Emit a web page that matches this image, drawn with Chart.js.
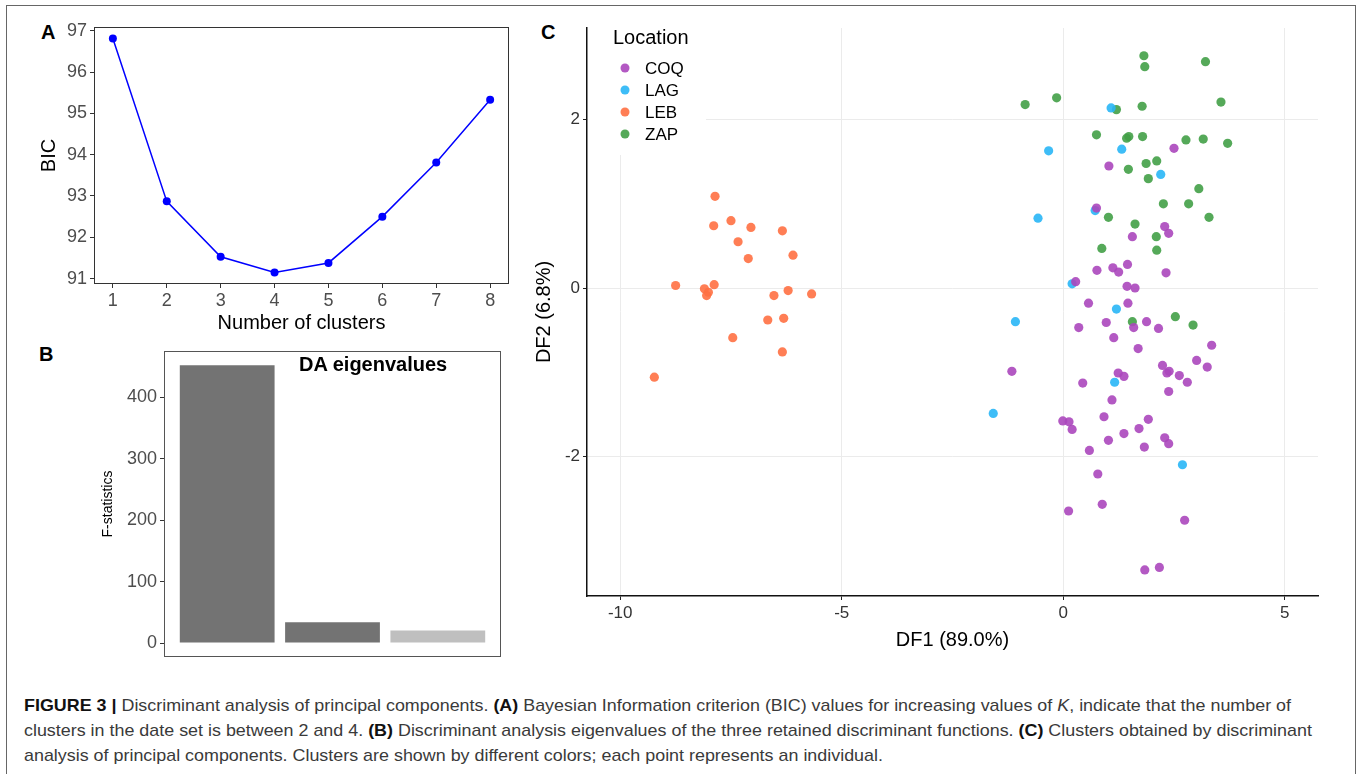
<!DOCTYPE html>
<html>
<head>
<meta charset="utf-8">
<script src="https://cdn.jsdelivr.net/npm/chart.js@4.4.0/dist/chart.umd.min.js"></script>
<style>
  body { margin: 0; background: #fff; width: 1358px; height: 774px; overflow: hidden; position: relative;
         font-family: "Liberation Sans", Arial, sans-serif; }
  .frame { position: absolute; left: 6px; top: 5px; width: 1348px; height: 840px; border: 1.5px solid #666; }
  canvas { position: absolute; }
  .letter { position: absolute; font-weight: bold; font-size: 20px; color: #000; line-height: 20px; }
  .subtitle { position: absolute; font-weight: bold; font-size: 20px; color: #000; }
  .caption { position: absolute; left: 24px; top: 693px; font-size: 17px; line-height: 25px; color: #3a3a3a;
             white-space: nowrap; transform-origin: 0 0; }
  .caption b { color: #111; }
</style>
</head>
<body>
<div class="frame"></div>

<div class="letter" style="left:41px; top:22px;">A</div>
<div class="letter" style="left:39px; top:344px;">B</div>
<div class="letter" style="left:541px; top:22px;">C</div>

<canvas id="bicChart" width="490" height="325" style="left:30px; top:15px;"></canvas>
<canvas id="eigenChart" width="411" height="317" style="left:95px; top:345px;"></canvas>
<div class="subtitle" style="left:299px; top:353px;">DA eigenvalues</div>
<canvas id="dfChart" width="803" height="640" style="left:532px; top:15px;"></canvas>

<div class="caption" id="caption">
  <div id="capLine1"><b>FIGURE 3 |</b> Discriminant analysis of principal components. <b>(A)</b> Bayesian Information criterion (BIC) values for increasing values of <i>K</i>, indicate that the number of</div>
  <div>clusters in the date set is between 2 and 4. <b>(B)</b> Discriminant analysis eigenvalues of the three retained discriminant functions. <b>(C)</b> Clusters obtained by discriminant</div>
  <div>analysis of principal components. Clusters are shown by different colors; each point represents an individual.</div>
</div>

<script>
// Panel A - BIC per number of clusters
const clusterK = [1, 2, 3, 4, 5, 6, 7, 8];
const bicValues = [96.81, 92.87, 91.53, 91.15, 91.38, 92.50, 93.81, 95.33];
const bicTicks = [91, 92, 93, 94, 95, 96, 97];

// Panel B - DA eigenvalues
const eigenIndex = [1, 2, 3];
const eigenValues = [452, 34, 20.5];
const eigenTicks = [0, 100, 200, 300, 400];

// Panel C - DF1 / DF2 scores per location
const coqX = [2.50, 1.03, 0.75, 2.29, 2.38, 1.56, 0.76, 1.12, 1.25, 1.45, 2.32, 0.28, 1.44, 1.62, 0.57, 1.46,
  0.35, 0.97, 1.59, 1.88, 2.15, 1.14, 1.69, 3.35, 3.01, 3.25, 2.24, 2.39, 2.34, 2.62, -1.16, 1.24, 1.37,
  0.44, 2.80, 2.38, 1.10, 0.92, 1.92, -0.01, 0.13, 0.20, 1.71, 1.37, 1.02, 2.29, 2.38, 1.83, 0.59, 0.78,
  0.88, 0.12, 2.74, 1.84, 2.17];
const coqY = [1.66, 1.45, 0.95, 0.73, 0.65, 0.61, 0.21, 0.24, 0.19, 0.28, 0.18, 0.075, 0.02, 0.00, -0.18, -0.18,
  -0.47, -0.41, -0.47, -0.40, -0.48, -0.59, -0.72, -0.68, -0.86, -0.94, -0.92, -0.99, -1.01, -1.04, -0.99, -1.01, -1.05,
  -1.13, -1.12, -1.23, -1.33, -1.53, -1.56, -1.58, -1.59, -1.68, -1.67, -1.73, -1.81, -1.78, -1.85, -1.89, -1.93, -2.21,
  -2.57, -2.65, -2.76, -3.35, -3.32];
const lagX = [1.08, -0.33, 1.32, 2.20, 0.72, -0.57, 0.20, 1.20, -1.08, 1.16, -1.58, 2.69];
const lagY = [2.14, 1.63, 1.65, 1.35, 0.92, 0.83, 0.05, -0.25, -0.40, -1.12, -1.49, -2.10];
const lebX = [-7.86, -7.50, -7.89, -7.05, -6.34, -7.34, -6.10, -7.11, -8.75, -7.88, -8.10, -8.01, -8.05,
  -6.21, -6.53, -5.68, -6.67, -6.31, -7.46, -6.34, -9.23];
const lebY = [1.09, 0.80, 0.74, 0.72, 0.68, 0.55, 0.39, 0.35, 0.03, 0.04, -0.01, -0.05, -0.09,
  -0.03, -0.09, -0.07, -0.38, -0.36, -0.59, -0.76, -1.06];
const zapX = [1.82, 1.84, 3.21, -0.86, -0.15, 1.20, 1.78, 3.56, 0.75, 1.43, 1.48, 1.79, 2.77, 3.16, 3.71, 1.47,
  1.87, 2.11, 1.92, 3.06, 2.26, 2.83, 1.02, 3.29, 1.62, 2.10, 0.87, 2.11, 1.56, 2.53, 2.93];
const zapY = [2.76, 2.63, 2.69, 2.18, 2.26, 2.12, 2.16, 2.21, 1.82, 1.78, 1.80, 1.80, 1.76, 1.77, 1.72, 1.41,
  1.48, 1.51, 1.30, 1.18, 1.00, 1.00, 0.84, 0.84, 0.76, 0.61, 0.47, 0.45, -0.40, -0.34, -0.44];
const dfXTicks = [-10, -5, 0, 5];
const dfYTicks = [-2, 0, 2];

const locations = ["COQ", "LAG", "LEB", "ZAP"];
const locationColors = ["rgba(171, 71, 188, 0.9)", "rgba(41, 182, 246, 0.9)", "rgba(255, 112, 67, 0.9)", "rgba(67, 160, 71, 0.9)"];

Chart.defaults.font.family = '"Liberation Sans", Arial, sans-serif';

// caption is set in a condensed face in the original: squeeze it to the same line width
const capLine1 = document.getElementById("capLine1");
const capWidth = capLine1.getBoundingClientRect().width;
const capRange = document.createRange();
capRange.selectNodeContents(capLine1);
const textWidth = capRange.getBoundingClientRect().width;
document.getElementById("caption").style.transform = "scaleX(" + (1267 / textWidth) + ")";

// draws the ggplot-style panel border round the plot area
function panelBox(color) {
  return {
    id: "panelBox",
    afterDatasetsDraw(chart) {
      const a = chart.chartArea;
      const ctx = chart.ctx;
      ctx.save();
      ctx.strokeStyle = color;
      ctx.lineWidth = 1;
      ctx.strokeRect(a.left + 0.5, a.top + 0.5, a.right - a.left - 1, a.bottom - a.top - 1);
      ctx.restore();
    }
  };
}

function toPoints(xs, ys) {
  return xs.map((x, i) => ({ x: x, y: ys[i] }));
}

// fixed axis sizes so the plot areas sit where the original panels are
function fixY(w) {
  return s => { s.width = w; s.paddingTop = 0; s.paddingBottom = 0; };
}
function fixX(h) {
  return s => { s.height = h; s.paddingLeft = 0; s.paddingRight = 0; };
}

// Panel A
new Chart(document.getElementById("bicChart"), {
  type: "line",
  data: {
    datasets: [{
      data: toPoints(clusterK, bicValues),
      borderColor: "#0000ff",
      backgroundColor: "#0000ff",
      borderWidth: 1.5,
      pointRadius: 4,
      pointBorderWidth: 0,
      tension: 0
    }]
  },
  options: {
    responsive: false,
    animation: false,
    events: [],
    layout: { padding: { top: 12, right: 11, left: 0, bottom: 0 } },
    plugins: { legend: { display: false }, tooltip: { enabled: false } },
    scales: {
      x: {
        type: "linear", min: 0.65, max: 8.35,
        afterBuildTicks: s => { s.ticks = clusterK.map(v => ({ value: v })); },
        afterFit: fixX(56),
        grid: { drawOnChartArea: false, tickLength: 4, tickColor: "#333" },
        border: { display: false },
        ticks: { color: "#4d4d4d", font: { size: 18 }, padding: 2, maxRotation: 0 },
        title: { display: true, text: "Number of clusters", color: "#000", font: { size: 20 }, padding: { top: 0, bottom: 5 } }
      },
      y: {
        min: 90.87, max: 97.09,
        afterBuildTicks: s => { s.ticks = bicTicks.map(v => ({ value: v })); },
        afterFit: fixY(64),
        grid: { drawOnChartArea: false, tickLength: 4, tickColor: "#333" },
        border: { display: false },
        ticks: { color: "#4d4d4d", font: { size: 18 }, padding: 3 },
        title: { display: true, text: "BIC", color: "#000", font: { size: 20 }, padding: { top: 7, bottom: 0 } }
      }
    }
  },
  plugins: [panelBox("#333")]
});

// Panel B
new Chart(document.getElementById("eigenChart"), {
  type: "bar",
  data: {
    datasets: [{
      data: toPoints(eigenIndex, eigenValues),
      backgroundColor: ["#737373", "#737373", "#bfbfbf"],
      borderWidth: 0,
      categoryPercentage: 0.9,
      barPercentage: 1.0
    }]
  },
  options: {
    responsive: false,
    animation: false,
    events: [],
    layout: { padding: { top: 6, right: 5, left: 0, bottom: 5 } },
    plugins: { legend: { display: false }, tooltip: { enabled: false } },
    scales: {
      x: {
        type: "linear", min: 0.4, max: 3.6, display: false, offset: false,
        grid: { offset: false },
        afterBuildTicks: s => { s.ticks = eigenIndex.map(v => ({ value: v })); }
      },
      y: {
        min: -22.6, max: 475,
        afterBuildTicks: s => { s.ticks = eigenTicks.map(v => ({ value: v })); },
        afterFit: fixY(69),
        grid: { drawOnChartArea: false, tickLength: 4, tickColor: "#333" },
        border: { display: false },
        ticks: { color: "#4d4d4d", font: { size: 18 }, padding: 3 },
        title: { display: true, text: "F-statistics", color: "#000", font: { size: 14 }, padding: { top: 5, bottom: 0 } }
      }
    }
  },
  plugins: [panelBox("#555")]
});

// legend drawn inside the plot like ggplot's legend.position
const insideLegend = {
  id: "insideLegend",
  beforeDatasetsDraw(chart) {
    const a = chart.chartArea;
    const ctx = chart.ctx;
    ctx.save();
    ctx.fillStyle = "#fff";
    ctx.fillRect(a.left + 1, a.top, 118, 127);
    ctx.fillStyle = "#000";
    ctx.textBaseline = "middle";
    ctx.font = '20px "Liberation Sans", Arial, sans-serif';
    ctx.fillText("Location", a.left + 26, a.top + 10);
    ctx.font = '17px "Liberation Sans", Arial, sans-serif';
    locations.forEach((name, i) => {
      const y = a.top + 40 + i * 22;
      ctx.fillStyle = locationColors[i];
      ctx.beginPath();
      ctx.arc(a.left + 38, y, 4.5, 0, Math.PI * 2);
      ctx.fill();
      ctx.fillStyle = "#000";
      ctx.fillText(name, a.left + 58, y + 1);
    });
    ctx.restore();
  }
};

// Panel C
const groupX = [coqX, lagX, lebX, zapX];
const groupY = [coqY, lagY, lebY, zapY];

new Chart(document.getElementById("dfChart"), {
  type: "scatter",
  data: {
    datasets: locations.map((name, i) => ({
      label: name,
      data: toPoints(groupX[i], groupY[i]),
      backgroundColor: locationColors[i],
      borderWidth: 0,
      pointRadius: 4.6
    }))
  },
  options: {
    responsive: false,
    animation: false,
    events: [],
    layout: { padding: { top: 13, right: 17, left: 0, bottom: 0 } },
    plugins: { legend: { display: false }, tooltip: { enabled: false } },
    scales: {
      x: {
        type: "linear", min: -10.75, max: 5.75,
        afterBuildTicks: s => { s.ticks = dfXTicks.map(v => ({ value: v })); },
        afterFit: fixX(59),
        grid: { color: "#ebebeb", lineWidth: 1, tickLength: 4, tickColor: "#222" },
        border: { display: true, color: "#111", width: 1.5 },
        ticks: { color: "#333", font: { size: 17 }, padding: 3, maxRotation: 0 },
        title: { display: true, text: "DF1 (89.0%)", color: "#000", font: { size: 20 }, padding: { top: 0, bottom: 3 } }
      },
      y: {
        min: -3.66, max: 3.09,
        afterBuildTicks: s => { s.ticks = dfYTicks.map(v => ({ value: v })); },
        afterFit: fixY(55),
        grid: { color: "#ebebeb", lineWidth: 1, tickLength: 4, tickColor: "#222" },
        border: { display: true, color: "#111", width: 1.5 },
        ticks: { color: "#333", font: { size: 17 }, padding: 3 },
        title: { display: true, text: "DF2 (6.8%)", color: "#000", font: { size: 20 }, padding: { top: 0, bottom: 0 } }
      }
    }
  },
  plugins: [insideLegend]
});
</script>
</body>
</html>
